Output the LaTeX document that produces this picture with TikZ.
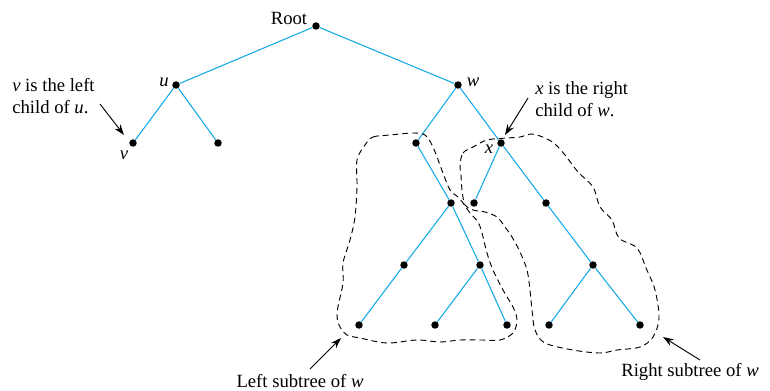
\documentclass[tikz,border=0pt]{standalone}
\usepackage{fontspec}
\setmainfont{Liberation Serif}
\usetikzlibrary{arrows.meta}
\definecolor{edgeblue}{RGB}{20,170,230}
\tikzset{
  dot/.style={circle,fill=black,inner sep=0pt,minimum size=5.6pt},
  edge/.style={edgeblue,line width=0.8pt},
  lbl/.style={inner sep=0pt,font=\fontsize{14}{16.5}\selectfont},
  callout/.style={-{Stealth[length=8pt,width=5.5pt]},line width=0.7pt,black},
  blob/.style={black,line width=0.7pt,dash pattern=on 4.4pt off 3pt},
}
\begin{document}
\begin{tikzpicture}[x=0.75pt,y=-0.75pt]
\useasboundingbox (0,0) rectangle (770,390);
% nodes
\node[dot] (r) at (316,26) {};
\node[dot] (u) at (176,85) {};
\node[dot] (w) at (458,85) {};
\node[dot] (v) at (133,143) {};
\node[dot] (ur) at (218,143) {};
\node[dot] (wl) at (416,143) {};
\node[dot] (x) at (501,143) {};
\node[dot] (a) at (451,203) {};
\node[dot] (xl) at (474,203) {};
\node[dot] (xr) at (546,203) {};
\node[dot] (al) at (404,265) {};
\node[dot] (ar) at (480,265) {};
\node[dot] (xrr) at (593,265) {};
\node[dot] (all) at (359,325) {};
\node[dot] (arl) at (435,325) {};
\node[dot] (arr) at (507,325) {};
\node[dot] (xrrl) at (549,325) {};
\node[dot] (xrrr) at (640,325) {};
% edges
\draw[edge] (r) -- (u);
\draw[edge] (r) -- (w);
\draw[edge] (u) -- (v);
\draw[edge] (u) -- (ur);
\draw[edge] (w) -- (wl);
\draw[edge] (w) -- (x);
\draw[edge] (wl) -- (a);
\draw[edge] (a) -- (al);
\draw[edge] (a) -- (ar);
\draw[edge] (al) -- (all);
\draw[edge] (ar) -- (arl);
\draw[edge] (ar) -- (arr);
\draw[edge] (x) -- (xl);
\draw[edge] (x) -- (xr);
\draw[edge] (xr) -- (xrr);
\draw[edge] (xrr) -- (xrrl);
\draw[edge] (xrr) -- (xrrr);
% node labels
\node[lbl] (tRoot) at (289,18) {Root};
\node[lbl] (tu) at (164,82) {\itshape u};
\node[lbl] (tw) at (473,82) {\itshape w};
\node[lbl] (tv) at (124,155) {\itshape v};
\node[lbl] (tx) at (489,149) {\itshape x};
% callouts
\node[lbl,anchor=west,align=left] (c1) at (12,96) {\itshape v\upshape\ is the left\\child of \itshape u\upshape.};
\node[lbl,anchor=west,align=left] (c2) at (535,99) {\itshape x\upshape\ is the right\\child of \itshape w\upshape.};
\node[lbl] (c3) at (300,381) {Left subtree of \itshape w};
\node[lbl] (c4) at (690,372) {Right subtree of \itshape w};
\coordinate (p1) at (100,104);
\coordinate (q1) at (124,135);
\coordinate (p2) at (528,98);
\coordinate (q2) at (505,135);
\coordinate (p3) at (310,369);
\coordinate (q3) at (341,338);
\coordinate (p4) at (700,360);
\coordinate (q4) at (663,337);
\draw[callout] (p1) -- (q1);
\draw[callout] (p2) -- (q2);
\draw[callout] (p3) -- (q3);
\draw[callout] (p4) -- (q4);
% left subtree blob
\draw[blob] plot[smooth cycle,tension=0.55] coordinates {
(365,145) (373,137) (390,135) (413,133) (425,135) (432,145) (437,157) (443,173)
(450,190) (458,197) (463,203) (470,213) (478,222) (482,233) (487,253) (493,270)
(503,290) (513,307) (517,320) (513,333) (500,340) (483,340) (460,340) (440,342)
(417,340) (387,343) (360,338) (347,335) (340,327) (337,313) (343,283) (343,263)
(350,240) (355,217) (357,187) (357,160)};
% right subtree blob
\draw[blob] plot[smooth cycle,tension=0.55] coordinates {
(460,165) (463,153) (473,147) (487,140) (507,138) (520,137) (532,134) (545,138)
(555,144) (565,155) (578,172) (593,187) (600,207) (612,220) (619,238) (637,248)
(646,268) (655,290) (659,318) (653,337) (640,347) (617,350) (600,353) (573,350)
(545,343) (535,330) (532,310) (530,290) (527,270) (520,252) (512,237) (505,227)
(497,217) (485,212) (473,210) (465,205) (462,190) (461,175)};
\end{tikzpicture}
\end{document}
